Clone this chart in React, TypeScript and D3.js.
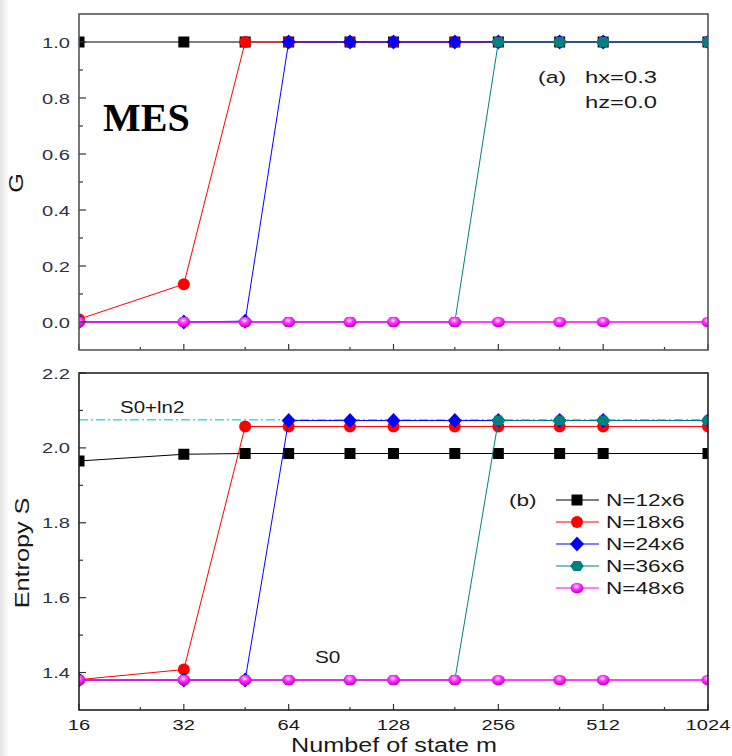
import * as d3 from "d3";
import { useEffect, useRef } from "react";

// number of kept states m
const mValues = [16, 32, 48, 64, 96, 128, 192, 256, 384, 512, 1024];
const seriesNames = ["N=12x6", "N=18x6", "N=24x6", "N=36x6", "N=48x6"];

// (a) G
const gN12 = [1, 1, 1, 1, 1, 1, 1, 1, 1, 1, 1];
const gN18 = [0.01, 0.135, 1, 1, 1, 1, 1, 1, 1, 1, 1];
const gN24 = [0, 0, 0.003, 1, 1, 1, 1, 1, 1, 1, 1];
const gN36 = [0, 0, 0, 0, 0, 0, 0, 1, 1, 1, 1];
const gN48 = [0, 0, 0, 0, 0, 0, 0, 0, 0, 0, 0];

// (b) Entropy S
const sN12 = [1.965, 1.983, 1.985, 1.985, 1.985, 1.985, 1.985, 1.985, 1.985, 1.985, 1.985];
const sN18 = [1.381, 1.408, 2.057, 2.057, 2.057, 2.057, 2.057, 2.057, 2.057, 2.057, 2.057];
const sN24 = [1.38, 1.38, 1.38, 2.073, 2.073, 2.073, 2.073, 2.073, 2.073, 2.073, 2.073];
const sN36 = [1.38, 1.38, 1.38, 1.38, 1.38, 1.38, 1.38, 2.073, 2.073, 2.073, 2.073];
const sN48 = [1.38, 1.38, 1.38, 1.38, 1.38, 1.38, 1.38, 1.38, 1.38, 1.38, 1.38];
const s0ln2 = 2.075;

const xTicks = [16, 32, 64, 128, 256, 512, 1024];
const xMinorTicks = [24, 48, 96, 192, 384, 768];
const gTicks = [0, 0.2, 0.4, 0.6, 0.8, 1.0];
const gMinorTicks = [0.1, 0.3, 0.5, 0.7, 0.9];
const sTicks = [1.4, 1.6, 1.8, 2.0, 2.2];
const sMinorTicks = [1.5, 1.7, 1.9, 2.1];

const colors = ["#000000", "#ff0000", "#0000ff", "#008080", "#ff00ff"];
const FONT = "'Liberation Sans', Arial, sans-serif";

export default function App() {
  const svgRef = useRef<SVGSVGElement>(null);

  useEffect(() => {
    if (!svgRef.current) return;
    const svg = d3.select(svgRef.current);
    svg.selectAll("*").remove();

    const left = 79;
    const right = 708;
    const x = d3.scaleLog().base(2).domain([16, 1024]).range([left, right]);
    const yG = d3.scaleLinear().domain([-0.1, 1.1]).range([350, 14]);
    const yS = d3.scaleLinear().domain([1.3, 2.2]).range([710, 373]);

    const defs = svg.append("defs");
    const grad = defs
      .append("radialGradient")
      .attr("id", "sphere")
      .attr("cx", "45%")
      .attr("cy", "35%")
      .attr("r", "60%");
    grad.append("stop").attr("offset", "0%").attr("stop-color", "#ffe0ff");
    grad.append("stop").attr("offset", "45%").attr("stop-color", "#ff33ff");
    grad.append("stop").attr("offset", "100%").attr("stop-color", "#d000d0");

    const shade = defs.append("linearGradient").attr("id", "shade");
    shade.append("stop").attr("offset", "0%").attr("stop-color", "#e4e4e4");
    shade.append("stop").attr("offset", "100%").attr("stop-color", "#ffffff");
    svg
      .append("rect")
      .attr("x", 0)
      .attr("y", 0)
      .attr("width", 9)
      .attr("height", 756)
      .attr("fill", "url(#shade)");

    // stretched text helper
    const addText = (
      str: string,
      tx: number,
      ty: number,
      size: number,
      sx: number,
      anchor = "start",
      rotate = 0,
      extra: Record<string, string> = {},
    ) => {
      const t = svg
        .append("text")
        .attr(
          "transform",
          `translate(${tx},${ty}) rotate(${rotate}) scale(${sx},1)`,
        )
        .attr("text-anchor", anchor)
        .style("font-family", extra.family || FONT)
        .style("font-size", `${size}px`)
        .style("font-weight", extra.weight || "normal")
        .attr("fill", extra.fill || "#1a1a1a")
        .text(str);
      return t;
    };

    const markerPath = (i: number) => {
      if (i === 0) return "M-5.5,-5.5H5.5V5.5H-5.5Z";
      if (i === 2) return "M0,-7.5L7,0L0,7.5L-7,0Z";
      if (i === 3) {
        const pts = d3.range(6).map((k) => {
          const a = (k * Math.PI) / 3;
          return [6.8 * Math.cos(a), 5.8 * Math.sin(a)];
        });
        return "M" + pts.map((p) => p.join(",")).join("L") + "Z";
      }
      return "";
    };

    const drawPanel = (
      id: string,
      y: d3.ScaleLinear<number, number>,
      series: number[][],
      ticks: number[],
      minor: number[],
      fmt: (v: number) => string,
      showXLabels: boolean,
      frameColor: string,
    ) => {
      const [bottom, top] = y.range();
      defs
        .append("clipPath")
        .attr("id", id)
        .append("rect")
        .attr("x", left)
        .attr("y", top)
        .attr("width", right - left)
        .attr("height", bottom - top);

      const plot = svg.append("g").attr("clip-path", `url(#${id})`);
      return { plot, bottom, top, ticks, minor, fmt, showXLabels, frameColor, y, series };
    };

    const panels = [
      drawPanel("clipG", yG, [gN12, gN18, gN24, gN36, gN48], gTicks, gMinorTicks, d3.format(".1f"), false, "#555"),
      drawPanel("clipS", yS, [sN12, sN18, sN24, sN36, sN48], sTicks, sMinorTicks, d3.format(".1f"), true, "#222"),
    ];

    // S0+ln2 reference line
    panels[1].plot
      .append("line")
      .attr("x1", left)
      .attr("x2", right)
      .attr("y1", yS(s0ln2))
      .attr("y2", yS(s0ln2))
      .attr("stroke", "#2fe3ee")
      .attr("stroke-width", 1.6)
      .attr("stroke-dasharray", "9,3,2,3");

    panels.forEach((p) => {
      p.series.forEach((vals, i) => {
        const pts = mValues.map((m, k) => [x(m), p.y(vals[k])] as [number, number]);
        p.plot
          .append("path")
          .attr("d", d3.line()(pts))
          .attr("fill", "none")
          .attr("stroke", colors[i])
          .attr("stroke-width", i === 4 ? 1.6 : 1);

        const marks = p.plot
          .append("g")
          .selectAll("g")
          .data(pts)
          .enter()
          .append("g")
          .attr("transform", (d) => `translate(${d[0]},${d[1]})`);
        if (i === 1) {
          marks.append("circle").attr("r", 6).attr("fill", colors[i]);
        } else if (i === 4) {
          marks
            .append("ellipse")
            .attr("rx", 6.5)
            .attr("ry", 5.2)
            .attr("fill", "url(#sphere)");
        } else {
          marks.append("path").attr("d", markerPath(i)).attr("fill", colors[i]);
        }
      });

      // ticks, pointing inward
      const axis = svg.append("g").attr("stroke", "#333").attr("stroke-width", 1.2);
      xTicks.forEach((t) =>
        axis.append("line").attr("x1", x(t)).attr("x2", x(t)).attr("y1", p.bottom).attr("y2", p.bottom - 6),
      );
      xMinorTicks.forEach((t) =>
        axis.append("line").attr("x1", x(t)).attr("x2", x(t)).attr("y1", p.bottom).attr("y2", p.bottom - 3),
      );
      p.ticks.forEach((t) =>
        axis.append("line").attr("x1", left).attr("x2", left + 7).attr("y1", p.y(t)).attr("y2", p.y(t)),
      );
      p.minor.forEach((t) =>
        axis.append("line").attr("x1", left).attr("x2", left + 4).attr("y1", p.y(t)).attr("y2", p.y(t)),
      );

      svg
        .append("rect")
        .attr("x", left)
        .attr("y", p.top)
        .attr("width", right - left)
        .attr("height", p.bottom - p.top)
        .attr("fill", "none")
        .attr("stroke", p.frameColor)
        .attr("stroke-width", 1.6);

      p.ticks.forEach((t) =>
        addText(p.fmt(t), 70, p.y(t) + 5.5, 15.5, 1.3, "end", 0, { fill: "#2a3344" }),
      );
      if (p.showXLabels) {
        xTicks.forEach((t) => addText(String(t), x(t), 730, 15.5, 1.3, "middle", 0, { fill: "#1a1a1a" }));
      }
    });

    // annotations
    addText("MES", 103, 131, 40, 1.0, "start", 0, {
      family: "'Liberation Serif', 'Times New Roman', serif",
      weight: "bold",
      fill: "#000",
    });
    addText("(a)", 538, 83, 17, 1.35);
    addText("hx=0.3", 585, 83, 17, 1.4);
    addText("hz=0.0", 585, 108, 17, 1.4);
    addText("S0+ln2", 120, 413, 16, 1.28);
    addText("S0", 315, 663, 16, 1.3);

    // legend
    addText("(b)", 509, 506, 17, 1.33);
    seriesNames.forEach((name, i) => {
      const ly = 500 + i * 22;
      const lg = svg.append("g").attr("transform", `translate(577,${ly})`);
      lg.append("line").attr("x1", -21).attr("x2", 22).attr("stroke", colors[i]).attr("stroke-width", 1);
      if (i === 1) lg.append("circle").attr("r", 6).attr("fill", colors[i]);
      else if (i === 4) lg.append("ellipse").attr("rx", 6.5).attr("ry", 5.2).attr("fill", "url(#sphere)");
      else lg.append("path").attr("d", markerPath(i)).attr("fill", colors[i]);
      addText(name, 606, ly + 6, 17, 1.33);
    });

    // axis titles
    addText("G", 23, 183, 21, 1.2, "middle", -90);
    addText("Entropy S", 29, 553, 21, 1.2, "middle", -90);
    addText("Numbef of state m", 394, 752, 21, 1.2, "middle");
  }, []);

  return (
    <svg
      ref={svgRef}
      width={732}
      height={756}
      style={{ position: "absolute", left: 0, top: 0, background: "#fff" }}
    />
  );
}
